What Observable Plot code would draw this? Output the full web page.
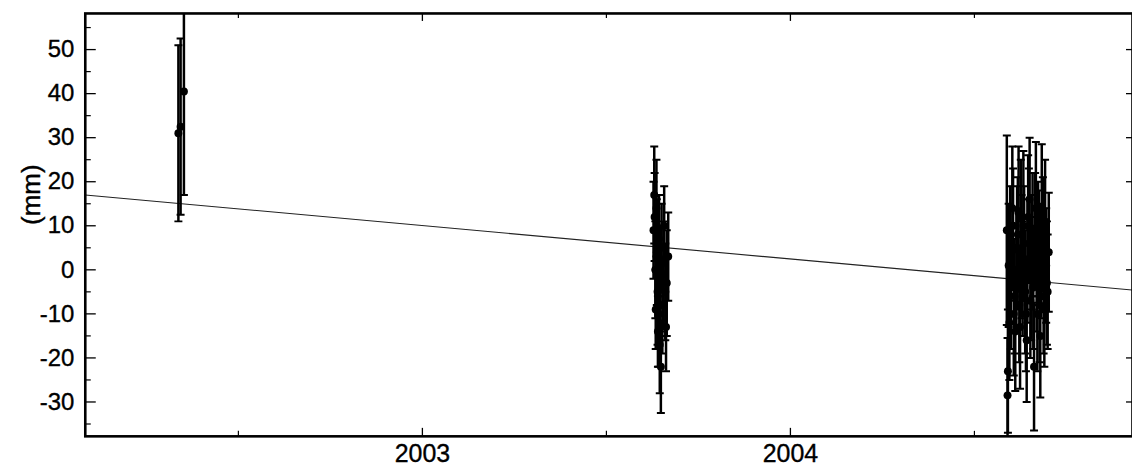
<!DOCTYPE html>
<html>
<head>
<meta charset="utf-8">
<script src="https://cdn.jsdelivr.net/npm/d3@7"></script>
<script src="https://cdn.jsdelivr.net/npm/@observablehq/plot@0.6"></script>
<style>
  html, body { margin: 0; padding: 0; background: #fff; overflow: hidden; }
  #chart svg { display: block; }
  #chart svg text { stroke: #000; stroke-width: 0.35px; }
</style>
</head>
<body>
<div id="chart"></div>
<script>
// Observation epochs (decimal year)
const epoch = [
  2002.337, 2002.343, 2002.352,
  2003.628, 2003.630, 2003.631, 2003.633, 2003.634, 2003.636, 2003.637, 2003.639,
  2003.640, 2003.642, 2003.643, 2003.645, 2003.646, 2003.648, 2003.650, 2003.652,
  2003.655, 2003.657, 2003.660, 2003.662, 2003.664, 2003.668,
  2004.588, 2004.590, 2004.591, 2004.593, 2004.595,
  2004.603, 2004.607, 2004.611, 2004.616, 2004.620, 2004.624, 2004.628, 2004.633,
  2004.638, 2004.642, 2004.646, 2004.650, 2004.654, 2004.658, 2004.662, 2004.667,
  2004.671, 2004.675, 2004.679, 2004.683, 2004.688, 2004.692, 2004.697, 2004.702,
  2004.597, 2004.599, 2004.605, 2004.609, 2004.614, 2004.618, 2004.622, 2004.626,
  2004.631, 2004.635, 2004.640, 2004.644, 2004.648, 2004.652, 2004.656, 2004.660,
  2004.665, 2004.669, 2004.673, 2004.677, 2004.681, 2004.686, 2004.690, 2004.695, 2004.699
];
// Displacement (mm)
const disp = [
  31, 32.5, 40.5,
  9, 17, 12, 0, -9, 14, 4, -5,
  -14, -10, 7, -17, -2, -22, 5, -8,
  -1, 10, -5, -13, -3, 3,
  9, -28.5, -23, 1, -12,
  14, -10, -14, 5, 13, -13, 3, 10,
  -5, -16, 12, 16, -2, 8, -22, 14,
  -10, 5, -15, 13, -6, 11, -3, 4,
  6, -4, 10, -6, 0, 8, -8, 12,
  -2, 6, -10, 2, 10, -7, 4, -4,
  9, -1, 7, -8, 2, 8, -9, 1, -5
];
// One-sigma error (mm)
const sigma = [
  20, 20, 23.5,
  11, 11, 10, 11, 9, 11, 12, 12,
  8, 12, 10, 11, 12, 10.5, 10, 11,
  12, 9, 11, 10, 12, 10,
  21.5, 13, 14, 14, 13,
  14, 14, 13.5, 14, 15, 14, 14, 17,
  14, 14, 14, 14, 14, 14, 14.5, 15,
  13, 13, 14, 15.5, 13, 14, 14, 13.5,
  13, 14, 13, 13, 14, 13, 13, 13,
  13, 13, 13, 14, 13, 13, 13, 14,
  13, 13, 13, 13, 13, 13, 13, 13, 13
];
// Linear trend end points
const trendT = [2002.084, 2004.93];
const trendV = [17, -4.6];

// Axis ticks
const ticksY = [-30, -20, -10, 0, 10, 20, 30, 40, 50];
const minorY = [-35, -25, -15, -5, 5, 15, 25, 35, 45, 55];
const ticksX = [2003, 2004];
const minorX = [2002.5, 2003.5, 2004.5];

const obs = epoch.map((t, i) => ({t, v: disp[i], lo: disp[i] - sigma[i], hi: disp[i] + sigma[i]}));
const trend = trendT.map((t, i) => ({t, v: trendV[i]}));

const W = 1135, H = 469;
const mL = 85, mR = 0, mT = 13, mB = 32;
const pw = W - mL - mR, ph = H - mT - mB;

const cap = {draw(ctx, size) { const w = 4; ctx.moveTo(-w, 0); ctx.lineTo(w, 0); }};

const chart = Plot.plot({
  width: W,
  height: H,
  marginLeft: mL,
  marginRight: mR,
  marginTop: mT,
  marginBottom: mB,
  style: {fontFamily: "'Liberation Sans', Arial, sans-serif", fontSize: "24px", color: "#000", background: "#fff"},
  x: {domain: [2002.084, 2004.9295], ticks: ticksX, tickSize: 0, tickPadding: 8, tickFormat: d => String(d), label: null},
  y: {domain: [-37.8, 58.2], ticks: ticksY, tickSize: 0, tickPadding: 11, tickFormat: d => String(d), label: null},
  marks: [
    Plot.line(trend, {x: "t", y: "v", stroke: "#222", strokeWidth: 1.1, clip: true}),
    Plot.ruleX(obs, {x: "t", y1: "lo", y2: "hi", stroke: "#000", strokeWidth: 2.5, clip: true}),
    Plot.dot(obs, {x: "t", y: "hi", symbol: cap, r: 4, stroke: "#000", strokeWidth: 2, fill: "none", clip: true}),
    Plot.dot(obs, {x: "t", y: "lo", symbol: cap, r: 4, stroke: "#000", strokeWidth: 2, fill: "none", clip: true}),
    Plot.dot(obs, {x: "t", y: "v", r: 4, fill: "#000", stroke: "none", clip: true}),
    // inward ticks
    Plot.tickY(ticksY, {y: d => d, insetRight: pw - 11, stroke: "#000", strokeWidth: 1.3}),
    Plot.tickY(minorY, {y: d => d, insetRight: pw - 6, stroke: "#000", strokeWidth: 1.2}),
    Plot.tickY(ticksY, {y: d => d, insetLeft: pw - 6, stroke: "#000", strokeWidth: 1.3}),
    Plot.tickX(ticksX, {x: d => d, insetTop: ph - 8, stroke: "#000", strokeWidth: 1.3}),
    Plot.tickX(minorX, {x: d => d, insetTop: ph - 5, stroke: "#000", strokeWidth: 1.2}),
    Plot.tickX(ticksX, {x: d => d, insetBottom: ph - 8, stroke: "#000", strokeWidth: 1.3}),
    Plot.tickX(minorX, {x: d => d, insetBottom: ph - 5, stroke: "#000", strokeWidth: 1.2}),
    Plot.frame({stroke: "#000", strokeWidth: 2.6}),
    Plot.text(["(mm)"], {frameAnchor: "left", dx: -54, rotate: -90, text: d => d, fontSize: 26, fill: "#000"})
  ]
});
chart.querySelectorAll("g[aria-label='x-axis tick label']").forEach(g => g.setAttribute("font-size", "25"));
document.getElementById("chart").appendChild(chart);
</script>
</body>
</html>
